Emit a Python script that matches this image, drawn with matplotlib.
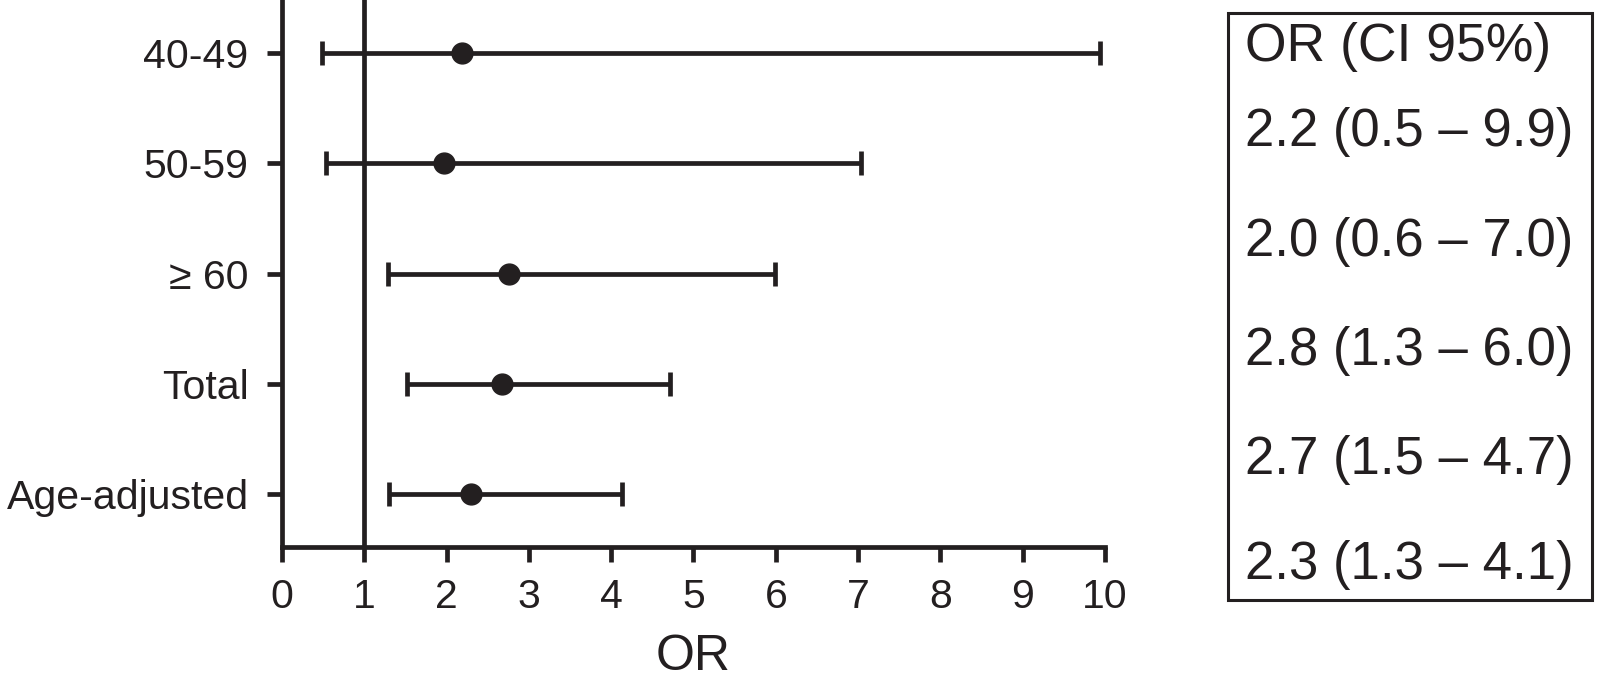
import matplotlib
matplotlib.use("Agg")
import matplotlib.pyplot as plt
from matplotlib.patches import Rectangle

plt.rcParams["font.family"] = ["Liberation Sans", "DejaVu Sans"]

# rows top to bottom
groups = ["40-49", "50-59", "\u2265 60", "Total", "Age-adjusted"]
odds = [2.19, 1.97, 2.76, 2.67, 2.30]
ci_low = [0.48, 0.54, 1.29, 1.52, 1.30]
ci_high = [9.94, 7.04, 5.99, 4.72, 4.13]
ci_text = ["2.2 (0.5 \u2013 9.9)", "2.0 (0.6 \u2013 7.0)", "2.8 (1.3 \u2013 6.0)",
           "2.7 (1.5 \u2013 4.7)", "2.3 (1.3 \u2013 4.1)"]
xticks = list(range(0, 11))

INK = "#231f20"

fig = plt.figure(figsize=(15.97, 6.94), dpi=100)
ax = fig.add_axes([0.1766, 0.2118, 0.6919 - 0.1766, 1 - 0.2118])

ypos = list(range(len(groups), 0, -1))
xerr = [[o - l for o, l in zip(odds, ci_low)], [h - o for o, h in zip(odds, ci_high)]]
ax.errorbar(odds, ypos, xerr=xerr, fmt="o", color=INK, ms=15, elinewidth=3.4,
            capsize=8.5, capthick=3.4, zorder=3)
ax.axvline(1, color=INK, lw=3.4, zorder=2)

ax.set_xlim(0, 10)
ax.set_ylim(0.52, 5.48)
ax.set_xticks(xticks)
ax.set_xticklabels([str(t) for t in xticks])
ax.set_yticks(ypos)
ax.set_yticklabels(groups)
ax.tick_params(axis="both", direction="out", length=11, width=3.4, color=INK,
               labelsize=29.5, labelcolor=INK)
ax.tick_params(axis="y", pad=13)
ax.tick_params(axis="x", pad=11)
ax.set_xlabel("OR", fontsize=36, color=INK, labelpad=13)
for side in ("top", "right"):
    ax.spines[side].set_visible(False)
for side in ("left", "bottom"):
    ax.spines[side].set_linewidth(3.4)
    ax.spines[side].set_color(INK)

# box of OR (CI 95%) values
fig.patches.append(Rectangle((0.769, 0.1354), 0.9969 - 0.769, 0.9813 - 0.1354,
                             transform=fig.transFigure, fill=False, ec=INK, lw=2.2))
text_y = [132, 242, 351, 460, 565]
fig.text(0.7796, 1 - 47 / 694, "OR (CI 95%)", fontsize=38.5, color=INK,
         ha="left", va="center")
for t, y in zip(ci_text, text_y):
    fig.text(0.7796, 1 - y / 694, t, fontsize=38, color=INK, ha="left", va="center")

fig.savefig("out.png", dpi=100)
